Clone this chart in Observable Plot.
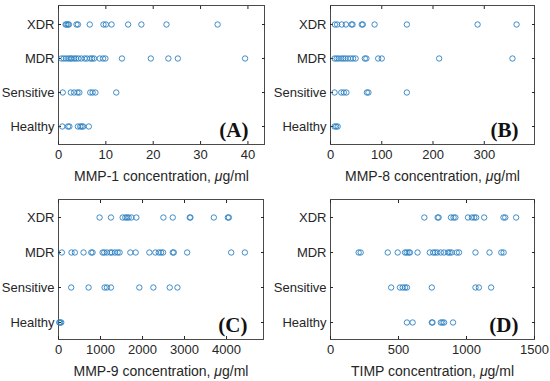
<!DOCTYPE html>
<html><head><meta charset="utf-8">
<script src="https://cdn.jsdelivr.net/npm/d3@7"></script>
<script src="https://cdn.jsdelivr.net/npm/@observablehq/plot@0.6"></script>
<style>
body{margin:0;background:#fff;}
#wrap{position:relative;width:550px;height:381px;background:#fff;}
.panel{position:absolute;}
</style></head><body><div id="wrap"></div>
<script>
const groups = ["XDR", "MDR", "Sensitive", "Healthy"];

// (A) MMP-1
const mmp1XDR = [1.5, 1.7, 2.0, 2.2, 3.8, 4.1, 6.6, 9.5, 10.0, 11.2, 14.7, 17.5, 22.8, 33.6];
const mmp1MDR = [0.6, 1.1, 1.6, 2.1, 2.5, 2.8, 3.3, 3.7, 4.2, 4.8, 5.5, 6.0, 6.7, 7.1, 7.5, 8.7, 9.4, 9.9, 13.4, 19.5, 23.2, 25.2, 39.4];
const mmp1Sensitive = [0.9, 2.6, 3.3, 4.0, 4.4, 6.7, 7.2, 7.8, 12.2];
const mmp1Healthy = [0.8, 2.0, 2.3, 4.1, 4.6, 4.9, 5.2, 6.4];
const mmp1Ticks = [0, 10, 20, 30, 40];

// (B) MMP-8
const mmp8XDR = [8.5, 13, 22, 30, 41, 43, 61, 63, 86, 149, 287, 363];
const mmp8MDR = [8, 12, 16, 21, 25, 29, 34, 39, 44, 49, 67, 70, 93, 100, 212, 355];
const mmp8Sensitive = [8, 21, 26, 31, 71, 74, 149];
const mmp8Healthy = [8, 11, 14];
const mmp8Ticks = [0, 100, 200, 300];

// (C) MMP-9
const mmp9XDR = [978, 1249, 1527, 1590, 1630, 1670, 1734, 1853, 2497, 2720, 3125, 3141, 3698, 4032, 4056];
const mmp9MDR = [80, 310, 390, 596, 780, 811, 1050, 1089, 1153, 1233, 1272, 1344, 1408, 1455, 1710, 1837, 2163, 2306, 2386, 2441, 2489, 2720, 2744, 3062, 4111, 4437];
const mmp9Sensitive = [302, 716, 1097, 1153, 1249, 1924, 2258, 2648, 2831];
const mmp9Healthy = [16, 40, 65];
const mmp9Ticks = [0, 1000, 2000, 3000, 4000];

// (D) TIMP
const timpXDR = [690, 788, 795, 886, 905, 918, 1011, 1040, 1057, 1071, 1130, 1272, 1285, 1365];
const timpMDR = [207, 222, 421, 494, 548, 560, 575, 584, 640, 730, 755, 769, 786, 811, 835, 864, 877, 891, 928, 945, 1066, 1169, 1256, 1273];
const timpSensitive = [446, 511, 531, 548, 562, 745, 1066, 1091, 1181];
const timpHealthy = [562, 604, 745, 750, 811, 823, 835, 901];
const timpTicks = [0, 500, 1000, 1500];

function rows(lists) {
  return groups.flatMap((g, i) => lists[i].map(v => ({group: g, value: v})));
}

const panels = [
  {data: rows([mmp1XDR, mmp1MDR, mmp1Sensitive, mmp1Healthy]), domain: [0, 43.5], ticks: mmp1Ticks, name: "MMP-1", tag: "(A)",
   left: 0, top: 0, width: 275, height: 185, mt: 5, mb: 41, ml: 58, mr: 11},
  {data: rows([mmp8XDR, mmp8MDR, mmp8Sensitive, mmp8Healthy]), domain: [0, 398], ticks: mmp8Ticks, name: "MMP-8", tag: "(B)",
   left: 275, top: 0, width: 275, height: 185, mt: 5, mb: 41, ml: 55, mr: 16},
  {data: rows([mmp9XDR, mmp9MDR, mmp9Sensitive, mmp9Healthy]), domain: [0, 4880], ticks: mmp9Ticks, name: "MMP-9", tag: "(C)",
   left: 0, top: 190, width: 275, height: 191, mt: 9, mb: 42, ml: 58, mr: 12},
  {data: rows([timpXDR, timpMDR, timpSensitive, timpHealthy]), domain: [0, 1500], ticks: timpTicks, name: "TIMP", tag: "(D)",
   left: 275, top: 190, width: 275, height: 191, mt: 9, mb: 42, ml: 55, mr: 16}
];

const wrap = document.getElementById("wrap");
const ink = "#262626";
for (const p of panels) {
  const label = `${p.name} concentration, μg/ml`;
  const svg = Plot.plot({
    width: p.width, height: p.height,
    marginTop: p.mt, marginBottom: p.mb, marginLeft: p.ml, marginRight: p.mr,
    style: {fontFamily: "'Liberation Sans', Arial, sans-serif", fontSize: "13px", color: ink, background: "white", overflow: "visible"},
    x: {domain: p.domain},
    y: {type: "point", domain: groups, padding: 0.5},
    marks: [
      Plot.frame({stroke: "#4a4a4a", strokeWidth: 1}),
      Plot.axisX({ticks: p.ticks, tickFormat: d => String(d), tickSize: 0, tickPadding: 5, label, labelAnchor: "center", labelOffset: 36, labelArrow: "none"}),
      Plot.axisX({ticks: p.ticks, tickSize: -3, fill: "none", label: null}),
      Plot.axisX({anchor: "top", ticks: p.ticks, tickSize: -3, fill: "none", label: null}),
      Plot.axisY({tickSize: 0, tickPadding: 4, label: null}),
      Plot.axisY({tickSize: -3, fill: "none", label: null}),
      Plot.axisY({anchor: "right", tickSize: -3, fill: "none", label: null}),
      Plot.dot(p.data, {x: "value", y: "group", r: 2.7, stroke: "#2a7fc0", strokeWidth: 0.9}),
      Plot.text([p.tag], {text: d => d, frameAnchor: "bottom-right", dx: -16, dy: -8, lineAnchor: "bottom",
        fontFamily: "'Liberation Serif', 'Times New Roman', serif", fontWeight: "bold", fontSize: 21, fill: "#111"})
    ]
  });
  const lab = d3.select(svg).select('g[aria-label="x-axis label"] text');
  if (!lab.empty()) {
    lab.text(null).attr("font-size", 14);
    lab.append("tspan").text(`${p.name} concentration, `);
    lab.append("tspan").attr("font-style", "italic").text("μ");
    lab.append("tspan").text("g/ml");
  }
  const div = document.createElement("div");
  div.className = "panel";
  div.style.left = p.left + "px";
  div.style.top = p.top + "px";
  div.appendChild(svg);
  wrap.appendChild(div);
}
</script></body></html>
